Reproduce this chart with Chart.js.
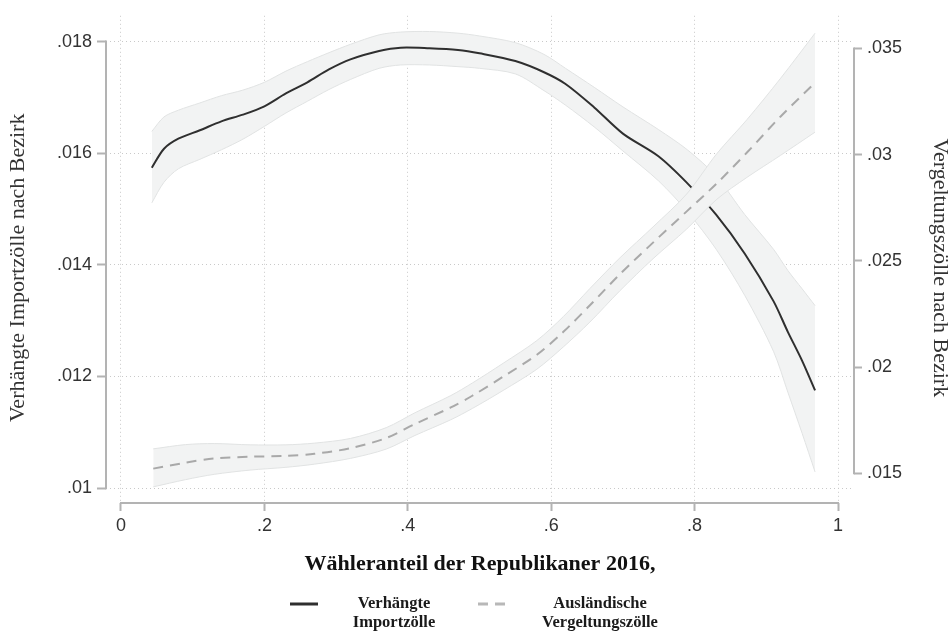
<!DOCTYPE html>
<html><head><meta charset="utf-8">
<script src="https://cdn.jsdelivr.net/npm/chart.js@4/dist/chart.umd.min.js"></script>
<style>html,body{margin:0;padding:0;background:#fff}#wrap{width:949px;height:631px}</style>
</head><body><div id="wrap"><canvas id="c" width="949" height="631"></canvas></div>
<script>
// ---- data ----
const xImport     = [0.043,0.06,0.08,0.11,0.14,0.17,0.20,0.23,0.26,0.29,0.32,0.36,0.39,0.43,0.47,0.50,0.55,0.59,0.62,0.66,0.70,0.75,0.79,0.83,0.87,0.91,0.93,0.95,0.968];
const importMean  = [0.01574,0.01608,0.01626,0.01641,0.01657,0.01669,0.01684,0.01707,0.01727,0.01750,0.01768,0.01783,0.01789,0.01788,0.01785,0.01779,0.01765,0.01745,0.01724,0.01682,0.01635,0.01594,0.01546,0.01490,0.01420,0.01335,0.01280,0.01228,0.01175];
const importUpper = [0.01639,0.01665,0.01677,0.01690,0.01703,0.01713,0.01727,0.01747,0.01764,0.01780,0.01795,0.01812,0.01817,0.01818,0.01815,0.01810,0.01798,0.01777,0.01752,0.01718,0.01683,0.01642,0.01606,0.01559,0.01490,0.01428,0.01390,0.01357,0.01327];
const importLower = [0.01511,0.01548,0.01572,0.01589,0.01606,0.01625,0.01648,0.01672,0.01693,0.01714,0.01732,0.01752,0.01758,0.01758,0.01755,0.01752,0.01742,0.01712,0.01686,0.01647,0.01604,0.01550,0.01495,0.01428,0.01345,0.01245,0.01172,0.01098,0.01029];

const xRetal      = [0.045,0.09,0.13,0.18,0.23,0.27,0.32,0.37,0.41,0.46,0.49,0.533,0.58,0.617,0.654,0.696,0.742,0.789,0.831,0.873,0.92,0.968];
const retalMean   = [0.01522,0.01550,0.01570,0.01578,0.01582,0.01592,0.01618,0.01666,0.01732,0.01810,0.01865,0.01955,0.02058,0.02166,0.02291,0.02438,0.02586,0.02733,0.02865,0.03010,0.03180,0.03339];
const retalUpper  = [0.01615,0.01635,0.01640,0.01634,0.01634,0.01642,0.01664,0.01715,0.01785,0.01866,0.01925,0.02018,0.02125,0.02238,0.02370,0.02515,0.02660,0.02815,0.03005,0.03165,0.03360,0.03572];
const retalLower  = [0.01436,0.01470,0.01495,0.01515,0.01528,0.01543,0.01570,0.01614,0.01678,0.01752,0.01805,0.01890,0.01990,0.02095,0.02212,0.02360,0.02510,0.02650,0.02790,0.02893,0.02997,0.03106];

const xTicks = [0,0.2,0.4,0.6,0.8,1];
const xTickLabels = ['0','.2','.4','.6','.8','1'];
const leftTicks = [0.01,0.012,0.014,0.016,0.018];
const leftTickLabels = ['.01','.012','.014','.016','.018'];
const rightTicks = [0.015,0.02,0.025,0.03,0.035];
const rightTickLabels = ['.015','.02','.025','.03','.035'];

const xTitle = 'Wähleranteil der Republikaner 2016,';
const yTitle = 'Verhängte Importzölle nach Bezirk';
const y2Title = 'Vergeltungszölle nach Bezirk';
const legendItems = [['Verhängte','Importzölle'],['Ausländische','Vergeltungszölle']];

// ---- styling ----
const BAND_FILL = '#f2f3f3';
const BAND_EDGE = '#e1e3e3';
const LINE1 = '#2f2f2f';
const LINE2 = '#a9a9a9';
const AXIS = '#b3b3b3';
const GRID = '#c9c9c9';
const TXT = '#333333';
const SANS = '"Liberation Sans", Arial, sans-serif';
const SERIF = '"Liberation Serif", "Times New Roman", serif';

const pts = (xs, ys) => xs.map((x, i) => ({x, y: ys[i]}));

const datasets = [
  {data: pts(xImport, importUpper), yAxisID: 'y', fill: 1, backgroundColor: BAND_FILL, borderColor: BAND_EDGE, borderWidth: 1, order: 5},
  {data: pts(xImport, importLower), yAxisID: 'y', fill: false, borderColor: BAND_EDGE, borderWidth: 1, order: 4},
  {data: pts(xImport, importMean), yAxisID: 'y', fill: false, borderColor: LINE1, borderWidth: 2, order: 3},
  {data: pts(xRetal, retalUpper), yAxisID: 'y2', fill: 4, backgroundColor: BAND_FILL, borderColor: BAND_EDGE, borderWidth: 1, order: 2},
  {data: pts(xRetal, retalLower), yAxisID: 'y2', fill: false, borderColor: BAND_EDGE, borderWidth: 1, order: 1},
  {data: pts(xRetal, retalMean), yAxisID: 'y2', fill: false, borderColor: LINE2, borderWidth: 2, borderDash: [10, 7], order: 0}
];

const setTicks = (vals) => (scale) => { scale.ticks = vals.map(v => ({value: v})); };
const labelOf = (vals, labels) => (v) => { const i = vals.findIndex(t => Math.abs(t - v) < 1e-9); return i >= 0 ? labels[i] : ''; };

const stataPlugin = {
  id: 'stata',
  afterDatasetsDraw(chart) {
    const {ctx, chartArea: ca, scales} = chart;
    const sx = scales.x, sy = scales.y, sy2 = scales.y2;
    ctx.save();
    ctx.strokeStyle = AXIS; ctx.lineWidth = 2; ctx.lineCap = 'butt';
    ctx.beginPath();
    ctx.moveTo(ca.left, sy.getPixelForValue(leftTicks[leftTicks.length - 1]) - 1);
    ctx.lineTo(ca.left, sy.getPixelForValue(leftTicks[0]) + 1);
    ctx.stroke();
    ctx.beginPath();
    ctx.moveTo(ca.right, sy2.getPixelForValue(rightTicks[rightTicks.length - 1]) - 1);
    ctx.lineTo(ca.right, sy2.getPixelForValue(rightTicks[0]) + 1);
    ctx.stroke();
    ctx.beginPath();
    ctx.moveTo(sx.getPixelForValue(xTicks[0]) - 1, ca.bottom);
    ctx.lineTo(sx.getPixelForValue(xTicks[xTicks.length - 1]) + 1, ca.bottom);
    ctx.stroke();

    ctx.fillStyle = TXT;
    ctx.textAlign = 'center'; ctx.textBaseline = 'middle';
    const midY = (sy.getPixelForValue(leftTicks[0]) + sy.getPixelForValue(leftTicks[leftTicks.length - 1])) / 2;
    ctx.font = '22px ' + SERIF;
    ctx.save(); ctx.translate(18, midY + 3); ctx.rotate(-Math.PI / 2); ctx.fillText(yTitle, 0, 0); ctx.restore();
    ctx.save(); ctx.translate(940, midY + 3); ctx.rotate(Math.PI / 2); ctx.fillText(y2Title, 0, 0); ctx.restore();
    const cx = (ca.left + ca.right) / 2;
    ctx.fillStyle = '#111';
    ctx.font = 'bold 22px ' + SERIF;
    ctx.fillText(xTitle, cx, ca.bottom + 61);
    const ly = ca.bottom + 101;
    ctx.font = 'bold 16.5px ' + SERIF;
    ctx.fillStyle = '#1a1a1a';
    ctx.fillText(legendItems[0][0], cx - 86, ly);
    ctx.fillText(legendItems[0][1], cx - 86, ly + 19);
    ctx.fillText(legendItems[1][0], cx + 120, ly);
    ctx.fillText(legendItems[1][1], cx + 120, ly + 19);
    ctx.lineWidth = 3;
    ctx.strokeStyle = LINE1;
    ctx.beginPath(); ctx.moveTo(cx - 190, ly); ctx.lineTo(cx - 162, ly); ctx.stroke();
    ctx.strokeStyle = '#b8b8b8';
    ctx.setLineDash([10, 7]);
    ctx.beginPath(); ctx.moveTo(cx - 2, ly); ctx.lineTo(cx + 25, ly); ctx.stroke();
    ctx.restore();
  }
};

new Chart(document.getElementById('c'), {
  type: 'line',
  data: {datasets},
  plugins: [stataPlugin],
  options: {
    responsive: false,
    devicePixelRatio: 1,
    animation: false,
    layout: {padding: {top: 11, left: 0, right: 0, bottom: 0}},
    elements: {point: {radius: 0, hoverRadius: 0}, line: {tension: 0.3}},
    plugins: {legend: {display: false}, tooltip: {enabled: false}, filler: {propagate: false}},
    scales: {
      x: {
        type: 'linear', min: -0.0209, max: 1.0223,
        afterBuildTicks: setTicks(xTicks),
        afterFit: (s) => { s.height = 128; },
        ticks: {callback: labelOf(xTicks, xTickLabels), font: {family: SANS, size: 18}, color: TXT, padding: 4, maxRotation: 0, autoSkip: false},
        grid: {color: GRID, lineWidth: 1, drawTicks: true, tickLength: 8, tickColor: AXIS, tickWidth: 2},
        border: {display: false, dash: [1, 3]}
      },
      y: {
        type: 'linear', position: 'left', min: 0.009734, max: 0.018461,
        afterBuildTicks: setTicks(leftTicks),
        afterFit: (s) => { s.width = 106; },
        ticks: {callback: labelOf(leftTicks, leftTickLabels), font: {family: SANS, size: 18}, color: TXT, padding: 5, autoSkip: false},
        grid: {color: GRID, lineWidth: 1, drawTicks: true, tickLength: 9, tickColor: AXIS, tickWidth: 2},
        border: {display: false, dash: [1, 3]}
      },
      y2: {
        type: 'linear', position: 'right', min: 0.013601, max: 0.036538,
        afterBuildTicks: setTicks(rightTicks),
        afterFit: (s) => { s.width = 95; },
        ticks: {callback: labelOf(rightTicks, rightTickLabels), font: {family: SANS, size: 18}, color: TXT, padding: 5, autoSkip: false},
        grid: {drawOnChartArea: false, drawTicks: true, tickLength: 8, tickColor: AXIS, tickWidth: 2},
        border: {display: false}
      }
    }
  }
});
</script>
</body></html>
